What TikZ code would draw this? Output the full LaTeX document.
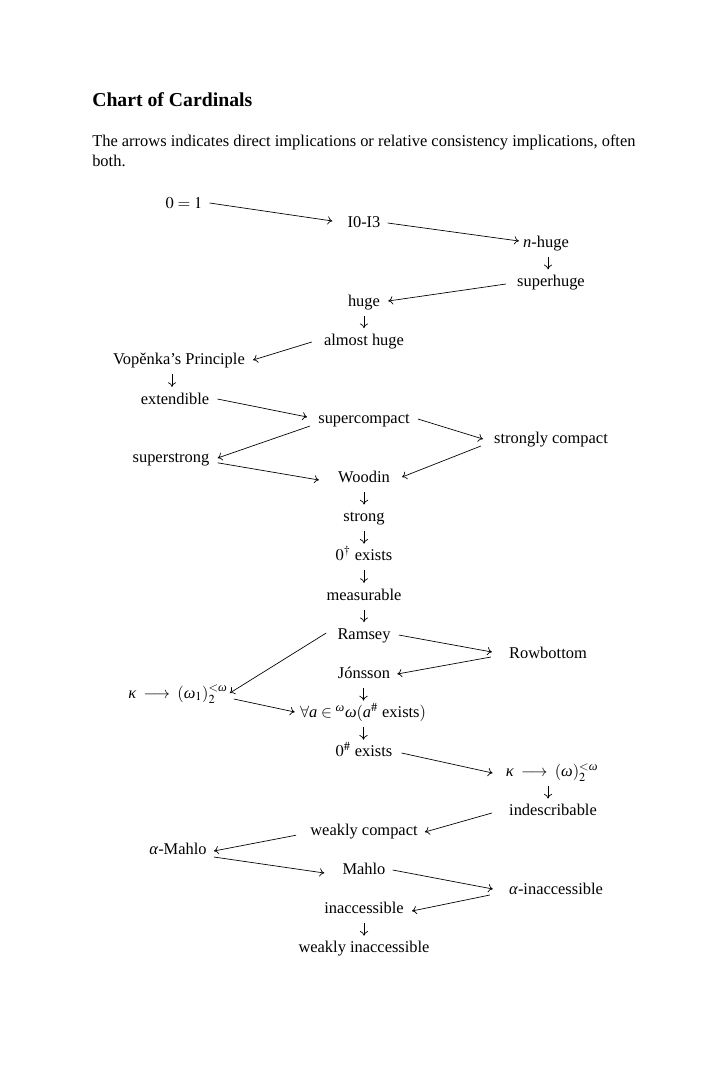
\documentclass[tikz,border=0pt]{standalone}
\usepackage{mathptmx}
\usepackage{amsmath}
\usepackage{fontspec}
\setmainfont{Liberation Serif}
\usetikzlibrary{calc,arrows.meta}
\newcommand{\gkap}{\textit{κ}}
\newcommand{\gom}{\textit{ω}}
\newcommand{\galp}{\textit{α}}
\begin{document}
\begin{tikzpicture}[x=0.73pt,y={(0pt,-0.73pt)},
  card/.style={inner sep=0pt,anchor=base,font=\fontsize{12}{14.5}\selectfont},
  txt/.style={inner sep=0pt,anchor=base west,font=\fontsize{12}{14.5}\selectfont},
  arr/.style={-{To[length=3.4pt,width=6pt]},line width=0.5pt}]
\fill[white] (0,0) rectangle (719,1084);
\useasboundingbox (0,0) rectangle (719,1084);
\node[inner sep=0pt,anchor=base west,font=\fontsize{14.4}{17}\selectfont\bfseries] (title) at (92,106.5) {Chart of Cardinals};
\node[txt] (introa) at (92,146.5) {The arrows indicates direct implications or relative consistency implications, often};
\node[txt] (introb) at (92,166.5) {both.};
% nodes
\node[card] (zero) at (184,208) {$0=1$};
\node[card] (iO) at (364,227.6) {I0-I3};
\node[card] (nhuge) at (546,247.2) {\textit{n}-huge};
\node[card] (superhuge) at (551,286.4) {superhuge};
\node[card] (huge) at (364,306) {huge};
\node[card] (almost) at (364,345.2) {almost huge};
\node[card] (vop) at (179,364.8) {Vopěnka’s Principle};
\node[card] (ext) at (175,404) {extendible};
\node[card] (superc) at (364,423.6) {supercompact};
\node[card] (strongc) at (551,443.2) {strongly compact};
\node[card] (superstrong) at (171,462.8) {superstrong};
\node[card] (woodin) at (364,482.4) {Woodin};
\node[card] (strong) at (364,521.6) {strong};
\node[card] (zerodag) at (364,560.8) {$0^{\dagger}$ exists};
\node[card] (meas) at (364,600) {measurable};
\node[card] (ramsey) at (364,639.2) {Ramsey};
\node[card] (rowb) at (548,658.8) {Rowbottom};
\node[card] (jons) at (364,678.4) {Jónsson};
\node[card] (kappa1) at (178,698) {$\gkap\;\longrightarrow\;(\gom_1)^{<\gom}_2$};
\node[card] (forall) at (363,717.6) {$\forall \textit{a}\in{}^{\gom}\gom(\textit{a}^{\#}\text{ exists})$};
\node[card] (zerosharp) at (364,756.8) {$0^{\#}$ exists};
\node[card] (kappa2) at (552,776.4) {$\gkap\;\longrightarrow\;(\gom)^{<\gom}_2$};
\node[card] (indesc) at (553,815.6) {indescribable};
\node[card] (wc) at (364,835.2) {weakly compact};
\node[card] (amahlo) at (178,854.8) {\galp-Mahlo};
\node[card] (mahlo) at (364,874.4) {Mahlo};
\node[card] (ainacc) at (556,894) {\galp-inaccessible};
\node[card] (inacc) at (364,913.6) {inaccessible};
\node[card] (winacc) at (364,952.8) {weakly inaccessible};
% diagonal arrows
\draw[arr] ([shift={(7,-5)}]zero.base east) -- ([shift={(-15,-6.6)}]iO.base west);
\draw[arr] ([shift={(7,-4.6)}]iO.base east) -- ([shift={(-4,-6.2)}]nhuge.base west);
\draw[arr] ([shift={(-11,-2.4)}]superhuge.base west) -- ([shift={(8,-5)}]huge.base east);
\draw[arr] ([shift={(-12,-3.2)}]almost.base west) -- ([shift={(8,-4.8)}]vop.base east);
\draw[arr] ([shift={(8,-5)}]ext.base east) -- ([shift={(-11,-6.6)}]superc.base west);
\draw[arr] ([shift={(8,-4.6)}]superc.base east) -- ([shift={(-11,-4.2)}]strongc.base west);
\draw[arr] ([shift={(-8,2.4)}]superc.base west) -- ([shift={(8,-4.8)}]superstrong.base east);
\draw[arr] ([shift={(8,0)}]superstrong.base east) -- ([shift={(-19,-2.4)}]woodin.base west);
\draw[arr] ([shift={(-13,2.8)}]strongc.base west) -- ([shift={(12,-5.4)}]woodin.base east);
\draw[arr] ([shift={(-11,-6.2)}]ramsey.base west) -- ([shift={(2,-5)}]kappa1.base east);
\draw[arr] ([shift={(8,-4.2)}]ramsey.base east) -- ([shift={(-17,-6.8)}]rowb.base west);
\draw[arr] ([shift={(-18,-1.8)}]rowb.base west) -- ([shift={(7,-4.4)}]jons.base east);
\draw[arr] ([shift={(6,1)}]kappa1.base east) -- ([shift={(-5,-5.6)}]forall.base west);
\draw[arr] ([shift={(9,-3.8)}]zerosharp.base east) -- ([shift={(-13,-3.4)}]kappa2.base west);
\draw[arr] ([shift={(-17,-2.6)}]indesc.base west) -- ([shift={(7,-3.2)}]wc.base east);
\draw[arr] ([shift={(-14,0)}]wc.base west) -- ([shift={(7,-3.8)}]amahlo.base east);
\draw[arr] ([shift={(7,2.2)}]amahlo.base east) -- ([shift={(-18,-1.4)}]mahlo.base west);
\draw[arr] ([shift={(7,-4.4)}]mahlo.base east) -- ([shift={(-16,-5)}]ainacc.base west);
\draw[arr] ([shift={(-19,1)}]ainacc.base west) -- ([shift={(8,-2.6)}]inacc.base east);
% vertical arrows
\foreach \a/\b/\d in {nhuge/superhuge/-0.5, huge/almost/0, vop/ext/-5, woodin/strong/0,
  strong/zerodag/0, zerodag/meas/0, meas/ramsey/0, jons/forall/0, forall/zerosharp/0,
  kappa2/indesc/-4.5, inacc/winacc/0}
  \draw[arr] ($(\a.base)!0.5!(\b.base)+(\d,-10)$) -- ($(\a.base)!0.5!(\b.base)+(\d,2.5)$);
\end{tikzpicture}
\end{document}
